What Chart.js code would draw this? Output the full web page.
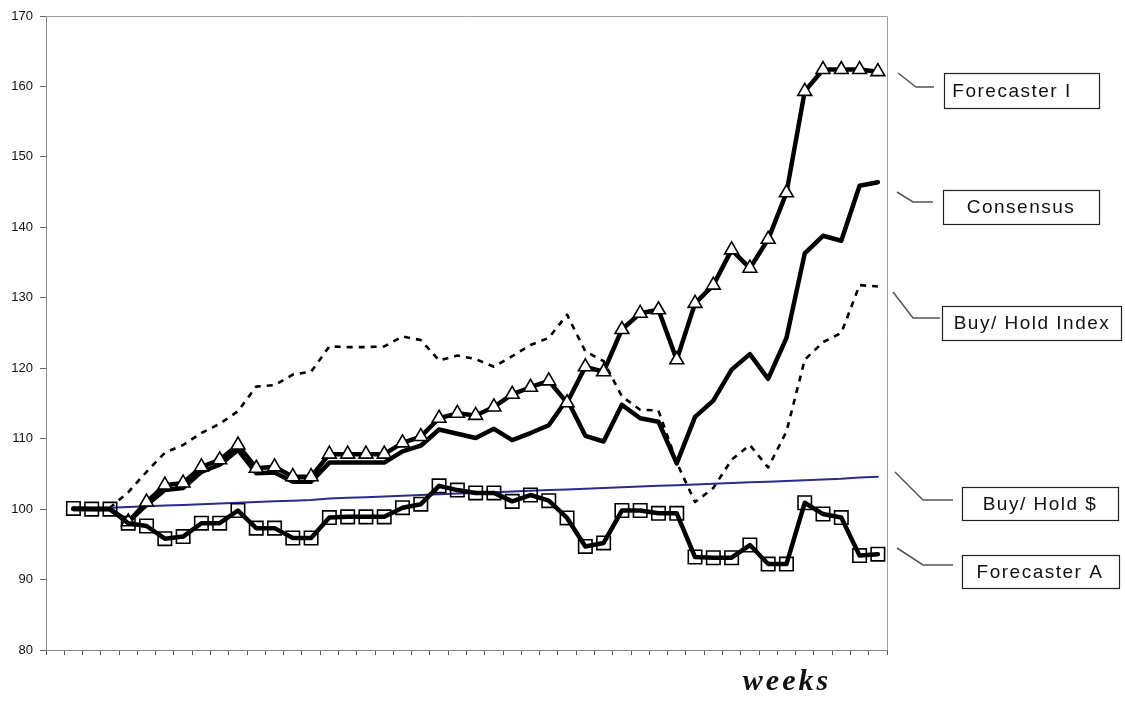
<!DOCTYPE html>
<html>
<head>
<meta charset="utf-8">
<script src="https://cdn.jsdelivr.net/npm/chart.js@4/dist/chart.umd.min.js"></script>
<style>
  html, body { margin: 0; padding: 0; background: #fff; }
  #wrap { width: 1125px; height: 703px; position: relative; }
</style>
</head>
<body>
<div id="wrap"><canvas id="c" width="1125" height="703"></canvas></div>
<script>
// ---- data ----
const weeks = ['', '1', '2', '3', '4', '5', '6', '7', '8', '9', '10', '11', '12', '13', '14', '15',
  '16', '17', '18', '19', '20', '21', '22', '23', '24', '25', '26', '27', '28', '29', '30',
  '31', '32', '33', '34', '35', '36', '37', '38', '39', '40', '41', '42', '43', '44', '45'];

const forecasterA = [null, 100.1, 100, 100, 98, 97.6, 95.8, 96.1, 98, 98, 99.8, 97.3, 97.3, 95.9, 95.9,
  98.8, 98.9, 98.9, 98.9, 100.2, 100.7, 103.3, 102.7, 102.3, 102.3, 101.1, 102, 101.2, 98.75, 94.7,
  95.2, 99.8, 99.8, 99.4, 99.4, 93.2, 93.1, 93.1, 94.9, 92.2, 92.2, 100.9, 99.3, 98.8, 93.4, 93.6];

const forecasterI = [null, 100, 100, 100, 98.2, 101, 103.4, 103.7, 106, 107, 109.1, 105.8, 106, 104.6, 104.6,
  107.8, 107.8, 107.8, 107.8, 109.4, 110.3, 112.9, 113.6, 113.3, 114.5, 116.3, 117.3, 118.2, 115.1, 120.2,
  119.5, 125.5, 127.8, 128.3, 121.2, 129.2, 131.8, 136.8, 134.2, 138.3, 144.9, 159.3, 162.4, 162.4, 162.4, 162.1];

const consensus = [null, 100, 100, 100, 98.2, 100.6, 102.7, 103, 105.3, 106.3, 108.4, 105.1, 105.2, 103.9, 103.9,
  106.6, 106.6, 106.6, 106.6, 108.2, 109, 111.3, 110.7, 110.1, 111.4, 109.8, 110.8, 111.9, 115.6, 110.4,
  109.6, 114.8, 112.9, 112.4, 106.5, 113.1, 115.4, 119.8, 122, 118.5, 124.3, 136.3, 138.8, 138.1, 145.9, 146.4];

const buyHoldIndex = [null, 100, 100, 100.2, 102.4, 105.3, 108, 109.1, 110.8, 112.1, 113.9, 117.4, 117.6, 119.1, 119.5,
  123.1, 123, 123, 123.1, 124.5, 124, 121.1, 121.8, 121.3, 120.2, 121.7, 123.3, 124.3, 127.6, 122.4,
  121, 116, 114.1, 114, 106.6, 101, 103, 107, 109.1, 105.9, 111, 121.2, 123.7, 125, 131.8, 131.6];

const buyHoldDollar = [null, 100.0, 100.1, 100.2, 100.3, 100.4, 100.5, 100.6, 100.7, 100.8, 100.9, 101.0, 101.1, 101.2, 101.3,
  101.5, 101.6, 101.7, 101.8, 101.9, 102.0, 102.1, 102.2, 102.3, 102.4, 102.5, 102.6, 102.7, 102.8, 102.9,
  103.0, 103.1, 103.2, 103.3, 103.4, 103.5, 103.6, 103.7, 103.8, 103.9, 104.0, 104.1, 104.2, 104.3, 104.5, 104.6];

const yTicks = [80, 90, 100, 110, 120, 130, 140, 150, 160, 170];
const seriesNames = ['Forecaster A', 'Forecaster I', 'Consensus', 'Buy/ Hold $', 'Buy/ Hold Index'];
const xTitle = 'weeks';

// ---- label call-out layout (pixels) ----
const callouts = [
  { text: 'Forecaster I', leader: [[898, 73], [916, 87], [934, 87]], box: [944, 73, 155, 35], tx: 1012 },
  { text: 'Consensus', leader: [[897, 192], [913, 202], [933, 202]], box: [943, 190, 156, 34], tx: 1021 },
  { text: 'Buy/ Hold Index', leader: [[893, 292], [913, 318], [940, 318]], box: [942, 306, 179, 34], tx: 1032 },
  { text: 'Buy/ Hold $', leader: [[895, 472], [923, 500], [953, 500]], box: [962, 487, 156, 33], tx: 1040 },
  { text: 'Forecaster A', leader: [[897, 548], [923, 565], [953, 565]], box: [962, 555, 157, 33], tx: 1040 }
];

const decor = {
  id: 'decor',
  beforeDatasetsDraw(chart) {
    const { ctx, chartArea: a } = chart;
    ctx.save();
    ctx.strokeStyle = '#a0a0a0';
    ctx.lineWidth = 1;
    ctx.beginPath();
    ctx.moveTo(a.left, a.top + 0.5);
    ctx.lineTo(a.right + 0.5, a.top + 0.5);
    ctx.lineTo(a.right + 0.5, a.bottom);
    ctx.stroke();
    ctx.restore();
  },
  afterDraw(chart) {
    const { ctx } = chart;
    ctx.save();
    callouts.forEach(c => {
      ctx.strokeStyle = '#555';
      ctx.lineWidth = 1.5;
      ctx.beginPath();
      c.leader.forEach((p, i) => i ? ctx.lineTo(p[0], p[1]) : ctx.moveTo(p[0], p[1]));
      ctx.stroke();
      const [bx, by, bw, bh] = c.box;
      ctx.fillStyle = '#fff';
      ctx.fillRect(bx, by, bw, bh);
      ctx.strokeStyle = '#222';
      ctx.lineWidth = 1.2;
      ctx.strokeRect(bx + 0.5, by + 0.5, bw, bh);
      ctx.fillStyle = '#111';
      ctx.font = '19px "Liberation Sans", Arial, sans-serif';
      ctx.letterSpacing = '1.5px';
      ctx.textAlign = 'center';
      ctx.textBaseline = 'middle';
      ctx.fillText(c.text, c.tx, by + bh / 2 + 1);
    });
    ctx.font = 'italic bold 30px "Liberation Serif", "Times New Roman", serif';
    ctx.letterSpacing = '3px';
    ctx.fillStyle = '#111';
    ctx.textAlign = 'center';
    ctx.textBaseline = 'alphabetic';
    ctx.fillText(xTitle, 787, 690);
    ctx.restore();
  }
};

const common = { tension: 0, borderJoinStyle: 'round', borderCapStyle: 'round', fill: false };

new Chart(document.getElementById('c'), {
  type: 'line',
  data: {
    labels: weeks,
    datasets: [
      Object.assign({}, common, {
        label: seriesNames[0], data: forecasterA, borderColor: '#000', borderWidth: 4.5,
        pointStyle: 'rect', pointRadius: 9.5, pointBorderWidth: 1.6,
        pointBackgroundColor: 'rgba(0,0,0,0)', pointBorderColor: '#000'
      }),
      Object.assign({}, common, {
        label: seriesNames[1], data: forecasterI, borderColor: '#000', borderWidth: 4.5,
        pointStyle: 'triangle', pointBorderWidth: 1.6,
        pointRadius: ctx => (ctx.dataIndex <= 3 ? 0 : 8),
        pointBackgroundColor: '#fff', pointBorderColor: '#000'
      }),
      Object.assign({}, common, {
        label: seriesNames[2], data: consensus, borderColor: '#000', borderWidth: 4.5, pointRadius: 0
      }),
      Object.assign({}, common, {
        label: seriesNames[3], data: buyHoldDollar, borderColor: '#2b2b8c', borderWidth: 2, pointRadius: 0
      }),
      Object.assign({}, common, {
        label: seriesNames[4], data: buyHoldIndex, borderColor: '#000', borderWidth: 2.6,
        borderDash: [6, 6], borderCapStyle: 'butt', pointRadius: 0
      })
    ]
  },
  options: {
    responsive: false,
    animation: false,
    layout: { padding: { left: 0, right: 238, top: 16, bottom: 0 } },
    plugins: { legend: { display: false }, tooltip: { enabled: false } },
    scales: {
      x: {
        type: 'category',
        offset: true,
        grid: { offset: true, drawOnChartArea: false, drawTicks: true, tickLength: 5, color: '#555' },
        border: { display: true, color: '#888', width: 1 },
        ticks: { display: false, autoSkip: false },
        afterFit(s) { s.height = 53; }
      },
      y: {
        min: 80, max: 170,
        afterBuildTicks(s) { s.ticks = yTicks.map(v => ({ value: v })); },
        grid: { drawOnChartArea: false, drawTicks: true, tickLength: 6, color: '#666' },
        border: { display: true, color: '#888', width: 1 },
        ticks: { color: '#111', padding: 7, font: { size: 13, family: '"Liberation Sans", Arial, sans-serif' } },
        afterFit(s) { s.width = 46; }
      }
    }
  },
  plugins: [decor]
});
</script>
</body>
</html>
